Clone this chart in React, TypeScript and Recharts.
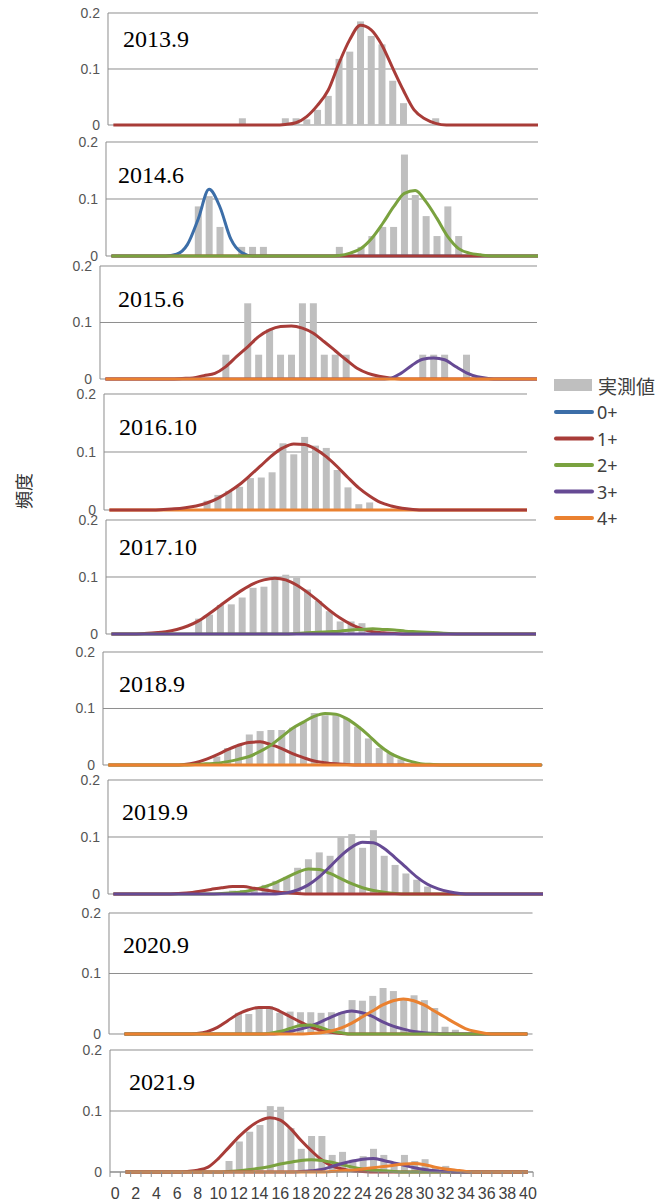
import React from 'react'
import { ComposedChart, Bar, Line, XAxis, YAxis, CartesianGrid } from 'recharts'

// body length classes (cm), one bar per class
const CATEGORIES = [
  0, 1, 2, 3, 4, 5, 6, 7, 8, 9,
  10, 11, 12, 13, 14, 15, 16, 17, 18, 19,
  20, 21, 22, 23, 24, 25, 26, 27, 28, 29,
  30, 31, 32, 33, 34, 35, 36, 37, 38, 39,
  40,
]
const Y_TICKS = [0, 0.1, 0.2]
const AGE_NAMES = ['0+', '1+', '2+', '3+', '4+']
const BAR_NAME = '実測値'
const Y_LABEL = '頻度'

const ZERO_FIT = [
  0, 0, 0, 0, 0, 0, 0, 0, 0, 0,
  0, 0, 0, 0, 0, 0, 0, 0, 0, 0,
  0, 0, 0, 0, 0, 0, 0, 0, 0, 0,
  0, 0, 0, 0, 0, 0, 0, 0, 0, 0,
  0,
]

// 2013.9
const BARS_2013 = [
  0, 0, 0, 0, 0, 0, 0, 0, 0, 0,
  0, 0, 0.012, 0, 0, 0, 0.012, 0.012, 0.01, 0.027,
  0.052, 0.118, 0.131, 0.185, 0.159, 0.144, 0.079, 0.039, 0, 0,
  0.012, 0, 0, 0, 0, 0, 0, 0, 0, 0,
  0,
]
const FIT_2013_1 = [
  0, 0, 0, 0, 0, 0, 0, 0, 0, 0,
  0, 0, 0, 0, 0, 0, 0.001, 0.004, 0.015, 0.035,
  0.062, 0.11, 0.152, 0.178, 0.17, 0.143, 0.102, 0.062, 0.027, 0.011,
  0.003, 0, 0, 0, 0, 0, 0, 0, 0, 0,
  0,
]

// 2014.6
const BARS_2014 = [
  0, 0, 0, 0, 0, 0, 0, 0, 0.087, 0.105,
  0.051, 0, 0.016, 0.016, 0.016, 0, 0, 0, 0, 0,
  0, 0.016, 0, 0.016, 0.035, 0.051, 0.051, 0.178, 0.107, 0.07,
  0.035, 0.087, 0.035, 0, 0, 0, 0, 0, 0, 0,
  0,
]
const FIT_2014_0 = [
  0, 0, 0, 0, 0, 0, 0.003, 0.02, 0.065, 0.117,
  0.086, 0.03, 0.006, 0, 0, 0, 0, 0, 0, 0,
  0, 0, 0, 0, 0, 0, 0, 0, 0, 0,
  0, 0, 0, 0, 0, 0, 0, 0, 0, 0,
  0,
]
const FIT_2014_2 = [
  0, 0, 0, 0, 0, 0, 0, 0, 0, 0,
  0, 0, 0, 0, 0, 0, 0, 0, 0, 0,
  0, 0.001, 0.005, 0.013, 0.031, 0.057, 0.086, 0.11, 0.115, 0.095,
  0.066, 0.034, 0.013, 0.005, 0.002, 0, 0, 0, 0, 0,
  0,
]

// 2015.6
const BARS_2015 = [
  0, 0, 0, 0, 0, 0, 0, 0, 0, 0,
  0, 0.043, 0, 0.134, 0.043, 0.088, 0.043, 0.043, 0.134, 0.134,
  0.043, 0.043, 0.043, 0, 0, 0, 0, 0, 0, 0.043,
  0.043, 0.043, 0, 0.043, 0, 0, 0, 0, 0, 0,
  0,
]
const FIT_2015_1 = [
  0, 0, 0, 0, 0, 0, 0, 0.001, 0.002, 0.006,
  0.01, 0.022, 0.04, 0.057, 0.075, 0.087, 0.093, 0.094, 0.09, 0.081,
  0.066, 0.05, 0.034, 0.019, 0.01, 0.005, 0.002, 0, 0, 0,
  0, 0, 0, 0, 0, 0, 0, 0, 0, 0,
  0,
]
const FIT_2015_3 = [
  0, 0, 0, 0, 0, 0, 0, 0, 0, 0,
  0, 0, 0, 0, 0, 0, 0, 0, 0, 0,
  0, 0, 0, 0, 0, 0, 0.001, 0.01, 0.024, 0.035,
  0.037, 0.034, 0.022, 0.011, 0.004, 0.001, 0, 0, 0, 0,
  0,
]

// 2016.10
const BARS_2016 = [
  0, 0, 0, 0, 0, 0, 0, 0, 0, 0.016,
  0.026, 0.033, 0.04, 0.055, 0.056, 0.065, 0.115, 0.096, 0.126, 0.111,
  0.107, 0.069, 0.039, 0.01, 0.013, 0, 0, 0, 0, 0,
  0, 0, 0, 0, 0, 0, 0, 0, 0, 0,
  0,
]
const FIT_2016_1 = [
  0, 0, 0, 0, 0, 0.001, 0.002, 0.004, 0.007, 0.012,
  0.02, 0.031, 0.044, 0.06, 0.077, 0.094, 0.107, 0.114, 0.113, 0.105,
  0.092, 0.075, 0.056, 0.038, 0.024, 0.013, 0.007, 0.003, 0.001, 0,
  0, 0, 0, 0, 0, 0, 0, 0, 0, 0,
  0,
]

// 2017.10
const BARS_2017 = [
  0, 0, 0, 0, 0, 0, 0, 0, 0.027, 0.034,
  0.051, 0.052, 0.064, 0.081, 0.083, 0.1, 0.104, 0.099, 0.078, 0.058,
  0.04, 0.022, 0.022, 0.019, 0, 0, 0, 0, 0, 0,
  0, 0, 0, 0, 0, 0, 0, 0, 0, 0,
  0,
]
const FIT_2017_1 = [
  0, 0, 0, 0.001, 0.002, 0.004, 0.008, 0.014, 0.023, 0.036,
  0.05, 0.064, 0.077, 0.088, 0.095, 0.098, 0.095, 0.086, 0.073, 0.058,
  0.042, 0.028, 0.017, 0.009, 0.004, 0.002, 0.001, 0, 0, 0,
  0, 0, 0, 0, 0, 0, 0, 0, 0, 0,
  0,
]
const FIT_2017_2 = [
  0, 0, 0, 0, 0, 0, 0, 0, 0, 0,
  0, 0, 0, 0, 0, 0, 0, 0.001, 0.002, 0.003,
  0.004, 0.005, 0.007, 0.008, 0.009, 0.008, 0.007, 0.005, 0.004, 0.003,
  0.002, 0.001, 0, 0, 0, 0, 0, 0, 0, 0,
  0,
]

// 2018.9
const BARS_2018 = [
  0, 0, 0, 0, 0, 0, 0, 0, 0, 0,
  0.015, 0.03, 0.035, 0.054, 0.06, 0.062, 0.062, 0.066, 0.076, 0.092,
  0.088, 0.088, 0.082, 0.068, 0.047, 0.03, 0.021, 0.01, 0, 0,
  0, 0, 0, 0, 0, 0, 0, 0, 0, 0,
  0,
]
const FIT_2018_1 = [
  0, 0, 0, 0, 0, 0, 0, 0.001, 0.004, 0.01,
  0.018, 0.027, 0.035, 0.04, 0.041, 0.036, 0.029, 0.02, 0.013, 0.007,
  0.004, 0.002, 0.001, 0, 0, 0, 0, 0, 0, 0,
  0, 0, 0, 0, 0, 0, 0, 0, 0, 0,
  0,
]
const FIT_2018_2 = [
  0, 0, 0, 0, 0, 0, 0, 0, 0.001, 0.002,
  0.003, 0.006, 0.01, 0.015, 0.024, 0.035, 0.05, 0.065, 0.076, 0.086,
  0.091, 0.09, 0.082, 0.069, 0.053, 0.035, 0.021, 0.012, 0.006, 0.002,
  0.001, 0, 0, 0, 0, 0, 0, 0, 0, 0,
  0,
]

// 2019.9
const BARS_2019 = [
  0, 0, 0, 0, 0, 0, 0, 0, 0, 0,
  0, 0.006, 0.007, 0.01, 0.016, 0.023, 0.03, 0.046, 0.061, 0.073,
  0.067, 0.1, 0.105, 0.081, 0.112, 0.067, 0.051, 0.036, 0.025, 0.013,
  0, 0, 0, 0, 0, 0, 0, 0, 0, 0,
  0,
]
const FIT_2019_1 = [
  0, 0, 0, 0, 0, 0, 0.001, 0.002, 0.005, 0.008,
  0.011, 0.013, 0.013, 0.01, 0.007, 0.004, 0.002, 0.001, 0, 0,
  0, 0, 0, 0, 0, 0, 0, 0, 0, 0,
  0, 0, 0, 0, 0, 0, 0, 0, 0, 0,
  0,
]
const FIT_2019_2 = [
  0, 0, 0, 0, 0, 0, 0, 0, 0, 0,
  0.001, 0.002, 0.004, 0.008, 0.013, 0.02, 0.029, 0.038, 0.044, 0.043,
  0.036, 0.027, 0.018, 0.011, 0.006, 0.003, 0.001, 0, 0, 0,
  0, 0, 0, 0, 0, 0, 0, 0, 0, 0,
  0,
]
const FIT_2019_3 = [
  0, 0, 0, 0, 0, 0, 0, 0, 0, 0,
  0, 0, 0, 0, 0, 0, 0.002, 0.007, 0.016, 0.03,
  0.048, 0.067, 0.082, 0.091, 0.09, 0.08, 0.064, 0.047, 0.03, 0.017,
  0.009, 0.004, 0.001, 0, 0, 0, 0, 0, 0, 0,
  0,
]

// 2020.9
const BARS_2020 = [
  0, 0, 0, 0, 0, 0, 0, 0, 0, 0,
  0, 0, 0.035, 0.033, 0.043, 0.046, 0.035, 0.037, 0.036, 0.036,
  0.035, 0.036, 0.036, 0.056, 0.055, 0.063, 0.076, 0.071, 0.059, 0.064,
  0.056, 0.043, 0.012, 0.007, 0, 0, 0, 0, 0, 0,
  0,
]
const FIT_2020_1 = [
  null, 0, 0, 0, 0, 0, 0, 0, 0.001, 0.004,
  0.011, 0.022, 0.033, 0.04, 0.044, 0.044, 0.038, 0.029, 0.02, 0.012,
  0.006, 0.003, 0.001, 0, 0, 0, 0, 0, 0, 0,
  0, 0, 0, 0, 0, 0, 0, 0, 0, 0,
  0,
]
const FIT_2020_2 = [
  null, 0, 0, 0, 0, 0, 0, 0, 0, 0,
  0, 0, 0, 0, 0, 0.001, 0.004, 0.009, 0.014, 0.015,
  0.011, 0.005, 0.002, 0, 0, 0, 0, 0, 0, 0,
  0, 0, 0, 0, 0, 0, 0, 0, 0, 0,
  0,
]
const FIT_2020_3 = [
  null, 0, 0, 0, 0, 0, 0, 0, 0, 0,
  0, 0, 0, 0, 0, 0, 0.001, 0.004, 0.008, 0.013,
  0.02, 0.028, 0.035, 0.038, 0.035, 0.029, 0.02, 0.013, 0.008, 0.004,
  0.002, 0.001, 0, 0, 0, 0, 0, 0, 0, 0,
  0,
]
const FIT_2020_4 = [
  null, 0, 0, 0, 0, 0, 0, 0, 0, 0,
  0, 0, 0, 0, 0, 0, 0, 0, 0, 0.001,
  0.002, 0.005, 0.01, 0.018, 0.028, 0.038, 0.048, 0.055, 0.058, 0.055,
  0.048, 0.038, 0.028, 0.018, 0.009, 0.004, 0.001, 0, 0, 0,
  0,
]

// 2021.9
const BARS_2021 = [
  0, 0, 0, 0, 0, 0, 0, 0, 0, 0,
  0, 0.018, 0.05, 0.066, 0.077, 0.108, 0.107, 0.072, 0.038, 0.059,
  0.059, 0.028, 0.033, 0.02, 0.026, 0.038, 0.028, 0.015, 0.028, 0.018,
  0.021, 0.008, 0.01, 0, 0, 0, 0, 0, 0, 0,
  0,
]
const FIT_2021_1 = [
  null, 0, 0, 0, 0, 0, 0, 0.001, 0.003, 0.008,
  0.022, 0.04, 0.058, 0.073, 0.084, 0.089, 0.085, 0.071, 0.052, 0.035,
  0.02, 0.01, 0.005, 0.002, 0.001, 0, 0, 0, 0, 0,
  0, 0, 0, 0, 0, 0, 0, 0, 0, 0,
  0,
]
const FIT_2021_2 = [
  null, 0, 0, 0, 0, 0, 0, 0, 0, 0,
  0, 0.001, 0.002, 0.004, 0.006, 0.009, 0.013, 0.016, 0.019, 0.02,
  0.019, 0.016, 0.012, 0.008, 0.005, 0.003, 0.002, 0.001, 0, 0,
  0, 0, 0, 0, 0, 0, 0, 0, 0, 0,
  0,
]
const FIT_2021_3 = [
  null, 0, 0, 0, 0, 0, 0, 0, 0, 0,
  0, 0, 0, 0, 0, 0, 0, 0, 0.001, 0.002,
  0.004, 0.009, 0.014, 0.018, 0.021, 0.022, 0.019, 0.015, 0.011, 0.007,
  0.004, 0.002, 0.001, 0, 0, 0, 0, 0, 0, 0,
  0,
]
const FIT_2021_4 = [
  null, 0, 0, 0, 0, 0, 0, 0, 0, 0,
  0, 0, 0, 0, 0, 0, 0, 0, 0, 0,
  0, 0.001, 0.002, 0.003, 0.005, 0.007, 0.009, 0.011, 0.013, 0.014,
  0.012, 0.008, 0.005, 0.003, 0.001, 0, 0, 0, 0, 0,
  0,
]

type Fit = { age: number; values: (number | null)[] }
type PanelData = { label: string; bars: number[]; fits: Fit[] }

// fits listed in drawing order (last one on top)
const PANELS: PanelData[] = [
  { label: '2013.9', bars: BARS_2013, fits: [{ age: 1, values: FIT_2013_1 }] },
  {
    label: '2014.6',
    bars: BARS_2014,
    fits: [
      { age: 0, values: FIT_2014_0 },
      { age: 1, values: ZERO_FIT },
      { age: 2, values: FIT_2014_2 },
    ],
  },
  {
    label: '2015.6',
    bars: BARS_2015,
    fits: [
      { age: 1, values: FIT_2015_1 },
      { age: 3, values: FIT_2015_3 },
      { age: 4, values: ZERO_FIT },
    ],
  },
  {
    label: '2016.10',
    bars: BARS_2016,
    fits: [
      { age: 4, values: ZERO_FIT },
      { age: 1, values: FIT_2016_1 },
    ],
  },
  {
    label: '2017.10',
    bars: BARS_2017,
    fits: [
      { age: 1, values: FIT_2017_1 },
      { age: 2, values: FIT_2017_2 },
      { age: 3, values: ZERO_FIT },
    ],
  },
  {
    label: '2018.9',
    bars: BARS_2018,
    fits: [
      { age: 1, values: FIT_2018_1 },
      { age: 2, values: FIT_2018_2 },
      { age: 4, values: ZERO_FIT },
    ],
  },
  {
    label: '2019.9',
    bars: BARS_2019,
    fits: [
      { age: 2, values: FIT_2019_2 },
      { age: 1, values: FIT_2019_1 },
      { age: 3, values: FIT_2019_3 },
    ],
  },
  {
    label: '2020.9',
    bars: BARS_2020,
    fits: [
      { age: 1, values: FIT_2020_1 },
      { age: 3, values: FIT_2020_3 },
      { age: 2, values: FIT_2020_2 },
      { age: 4, values: FIT_2020_4 },
    ],
  },
  {
    label: '2021.9',
    bars: BARS_2021,
    fits: [
      { age: 1, values: FIT_2021_1 },
      { age: 2, values: FIT_2021_2 },
      { age: 3, values: FIT_2021_3 },
      { age: 4, values: FIT_2021_4 },
    ],
  },
]

// page geometry of each panel: y of the 0.2 and 0 lines, x of class 0, class width, right crop
const LAYOUT = [
  { top: 13, base: 125, cat0: 113, step: 10.74, clip: 538, tx: 123, ty: 47 },
  { top: 142, base: 256, cat0: 111.7, step: 10.85, clip: 538, tx: 118, ty: 183 },
  { top: 266, base: 379, cat0: 105, step: 10.94, clip: 537, tx: 118, ty: 307 },
  { top: 394, base: 510, cat0: 109.8, step: 10.84, clip: 527, tx: 119, ty: 435 },
  { top: 520, base: 634, cat0: 111.1, step: 10.89, clip: 536, tx: 119, ty: 555 },
  { top: 652, base: 765, cat0: 108.3, step: 10.83, clip: 543, tx: 119, ty: 692 },
  { top: 780, base: 894, cat0: 113.3, step: 10.83, clip: 543, tx: 122, ty: 820 },
  { top: 913, base: 1034, cat0: 114.3, step: 10.33, clip: 533, tx: 123, ty: 953 },
  { top: 1050, base: 1172, cat0: 115, step: 10.32, clip: 546, tx: 129, ty: 1090 },
]

const AGE_COLORS = ['#3C6EA8', '#A83C38', '#7AA23F', '#664A94', '#EA8130']
const BAR_COLOR = '#BFBFBF'
const GRID_COLOR = '#8E8E8E'
const Y_AXIS_W = 40
const MARGIN_TOP = 10
const X_AXIS_H = 31

function Panel({ data, layout, showAxis }: { data: PanelData; layout: (typeof LAYOUT)[number]; showAxis: boolean }) {
  const rows = CATEGORIES.map((c, i) => {
    const row: Record<string, number | null> = { x: c, bar: data.bars[i] }
    data.fits.forEach((f, k) => {
      row[`f${k}`] = f.values[i]
    })
    return row
  })

  const plotLeft = layout.cat0 - layout.step / 2
  const plotW = layout.step * CATEGORIES.length
  const plotH = layout.base - layout.top
  const marginBottom = showAxis ? 1 : 9
  const marginRight = showAxis ? 14 : 2
  const chartW = Y_AXIS_W + plotW + marginRight
  const chartH = MARGIN_TOP + plotH + (showAxis ? X_AXIS_H : 0) + marginBottom
  const left = plotLeft - Y_AXIS_W
  const step = layout.step

  const renderTick = (props: any) => {
    const { x, y, payload, index } = props
    const v = payload.value
    return (
      <g>
        <line x1={x - step / 2} x2={x - step / 2} y1={y} y2={y + 5} stroke={GRID_COLOR} />
        {index === CATEGORIES.length - 1 && (
          <line x1={x + step / 2} x2={x + step / 2} y1={y} y2={y + 5} stroke={GRID_COLOR} />
        )}
        {v % 2 === 0 && (
          <text
            x={x}
            y={y + 27}
            textAnchor="middle"
            fontSize={16}
            fontFamily="'Liberation Sans', Arial, sans-serif"
            fill="#404040"
          >
            {v}
          </text>
        )}
      </g>
    )
  }

  return (
    <div
      style={{
        position: 'absolute',
        left,
        top: layout.top - MARGIN_TOP,
        width: layout.clip - left,
        height: chartH,
        overflow: 'hidden',
      }}
    >
      <ComposedChart
        width={chartW}
        height={chartH}
        data={rows}
        margin={{ top: MARGIN_TOP, right: marginRight, bottom: marginBottom, left: 0 }}
      >
        <CartesianGrid vertical={false} stroke={GRID_COLOR} />
        <XAxis
          dataKey="x"
          type="category"
          hide={!showAxis}
          height={X_AXIS_H}
          interval={0}
          tickLine={false}
          tickSize={0}
          tickMargin={0}
          axisLine={{ stroke: GRID_COLOR }}
          tick={renderTick}
        />
        <YAxis
          width={Y_AXIS_W}
          domain={[0, 0.2]}
          ticks={Y_TICKS}
          tickLine={false}
          axisLine={{ stroke: GRID_COLOR }}
          tick={{ fontSize: 14, fill: '#555', fontFamily: "'Liberation Sans', Arial, sans-serif" }}
          tickFormatter={(v: number) => (v === 0 ? '0' : String(v))}
        />
        <Bar dataKey="bar" fill={BAR_COLOR} barSize={Math.round(step * 0.66)} isAnimationActive={false} />
        {data.fits.map((f, k) => (
          <Line
            key={k}
            type="monotone"
            dataKey={`f${k}`}
            stroke={AGE_COLORS[f.age]}
            strokeWidth={3}
            strokeLinejoin="round"
            dot={false}
            isAnimationActive={false}
          />
        ))}
      </ComposedChart>
    </div>
  )
}

export default function App() {
  return (
    <div style={{ position: 'absolute', left: 0, top: 0, width: 657, height: 1204, background: '#fff', overflow: 'hidden' }}>
      {PANELS.map((p, i) => (
        <Panel key={p.label} data={p} layout={LAYOUT[i]} showAxis={i === PANELS.length - 1} />
      ))}
      <svg
        width={657}
        height={1204}
        style={{ position: 'absolute', left: 0, top: 0, pointerEvents: 'none' }}
      >
        {PANELS.map((p, i) => (
          <text
            key={p.label}
            x={LAYOUT[i].tx}
            y={LAYOUT[i].ty}
            fontSize={24}
            fontFamily="'Liberation Serif', 'DejaVu Serif', serif"
            fill="#000"
          >
            {p.label}
          </text>
        ))}
        <text
          x={23}
          y={491}
          transform="rotate(-90 23 491)"
          textAnchor="middle"
          dominantBaseline="central"
          fontSize={18}
          fontFamily="'Noto Sans CJK JP', sans-serif"
          fill="#333"
        >
          {Y_LABEL}
        </text>
        {/* legend */}
        <rect x={554} y={379} width={38} height={12} fill={BAR_COLOR} />
        <text
          x={598}
          y={385}
          dominantBaseline="central"
          fontSize={19}
          fontFamily="'Noto Sans CJK JP', sans-serif"
          fill="#404040"
        >
          {BAR_NAME}
        </text>
        {AGE_NAMES.map((name, i) => {
          const y = 412 + i * 26.5
          return (
            <g key={name}>
              <line x1={556} x2={592} y1={y} y2={y} stroke={AGE_COLORS[i]} strokeWidth={4} strokeLinecap="round" />
              <text
                x={597}
                y={y}
                dominantBaseline="central"
                fontSize={18}
                fontFamily="'Noto Sans', 'Liberation Sans', sans-serif"
                fill="#404040"
              >
                {name}
              </text>
            </g>
          )
        })}
      </svg>
    </div>
  )
}
